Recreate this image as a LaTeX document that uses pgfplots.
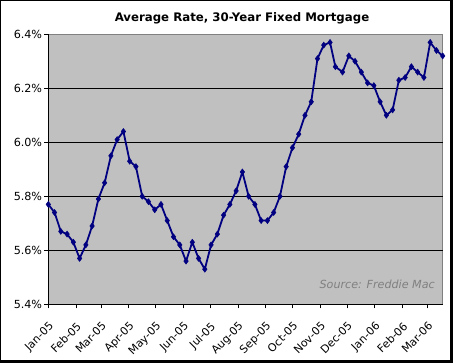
\documentclass[border=0pt]{standalone}
\usepackage{fontspec}
\setmainfont{DejaVu Sans}
\usepackage{pgfplots}
\usepackage{pgfplotstable}
\pgfplotsset{compat=1.18}
\definecolor{navyline}{RGB}{0,0,128}
\definecolor{plotbg}{RGB}{192,192,192}
\definecolor{srcgray}{RGB}{128,128,128}

\pgfplotstableread{
day rate
0 5.77
7 5.74
14 5.67
21 5.66
28 5.63
35 5.57
42 5.62
49 5.69
56 5.79
63 5.85
70 5.95
77 6.01
84 6.04
91 5.93
98 5.91
105 5.80
112 5.78
119 5.75
126 5.77
133 5.71
140 5.65
147 5.62
154 5.56
161 5.63
168 5.57
175 5.53
182 5.62
189 5.66
196 5.73
203 5.77
210 5.82
217 5.89
224 5.80
231 5.77
238 5.71
245 5.71
252 5.74
259 5.80
266 5.91
273 5.98
280 6.03
287 6.10
294 6.15
301 6.31
308 6.36
315 6.37
321 6.28
329 6.26
336 6.32
343 6.30
350 6.26
357 6.22
364 6.21
371 6.15
378 6.10
385 6.12
392 6.23
399 6.24
406 6.28
413 6.26
420 6.24
427 6.37
434 6.34
441 6.32
}\ratedata

\begin{document}
\begin{tikzpicture}
\useasboundingbox (0,0) rectangle (453bp,363bp);
\fill[white] (0,0) rectangle (453bp,363bp);
\draw[black, line width=0.8bp] (0.4bp,0.4bp) rectangle (452.6bp,362.6bp);
\fill[black] (450bp,0) rectangle (453bp,363bp);
\fill[black] (0,0) rectangle (453bp,3bp);
\begin{axis}[
  at={(48.3bp,58.7bp)}, anchor=south west,
  scale only axis, width=394.4bp, height=270bp,
  xmin=0, xmax=441, ymin=5.4, ymax=6.4,
  axis lines*=left,
  axis line style={-, black, line width=0.8bp},
  axis background/.style={fill=plotbg, draw=srcgray, line width=0.8bp},
  clip=false,
  tick align=outside,
  major tick length=4bp,
  tick style={black, line width=0.8bp},
  xtick={0,31,59,90,120,151,181,212,243,273,304,334,365,396,424},
  xticklabels={Jan-05,Feb-05,Mar-05,Apr-05,May-05,Jun-05,Jul-05,Aug-05,Sep-05,Oct-05,Nov-05,Dec-05,Jan-06,Feb-06,Mar-06},
  ytick={5.4,5.6,5.8,6.0,6.2,6.4},
  yticklabels={5.4\%,5.6\%,5.8\%,6.0\%,6.2\%,6.4\%},
  extra y ticks={5.6,5.8,6.0,6.2},
  extra y tick labels={},
  extra y tick style={grid=major, major grid style={black, line width=0.8bp}, major tick length=0pt},
  xticklabel style={font=\fontsize{11}{13}\selectfont, rotate=45, anchor=north east, inner sep=1bp, xshift=-8bp, yshift=-8bp},
  yticklabel style={font=\fontsize{11.2}{13}\selectfont, inner sep=2bp},
]
\addplot[navyline, line width=1.8bp, mark=diamond*, mark size=3bp,
  mark options={fill=navyline, line width=0.5bp}] table[x=day, y=rate] {\ratedata};
\end{axis}
\node[font=\bfseries\fontsize{11.8}{14}\selectfont] at (242bp,345bp) {Average Rate, 30-Year Fixed Mortgage};
\node[font=\itshape\fontsize{11.2}{13}\selectfont, text=srcgray, anchor=east, inner sep=0pt] at (435bp,79bp) {Source: Freddie Mac};
\end{tikzpicture}
\end{document}
